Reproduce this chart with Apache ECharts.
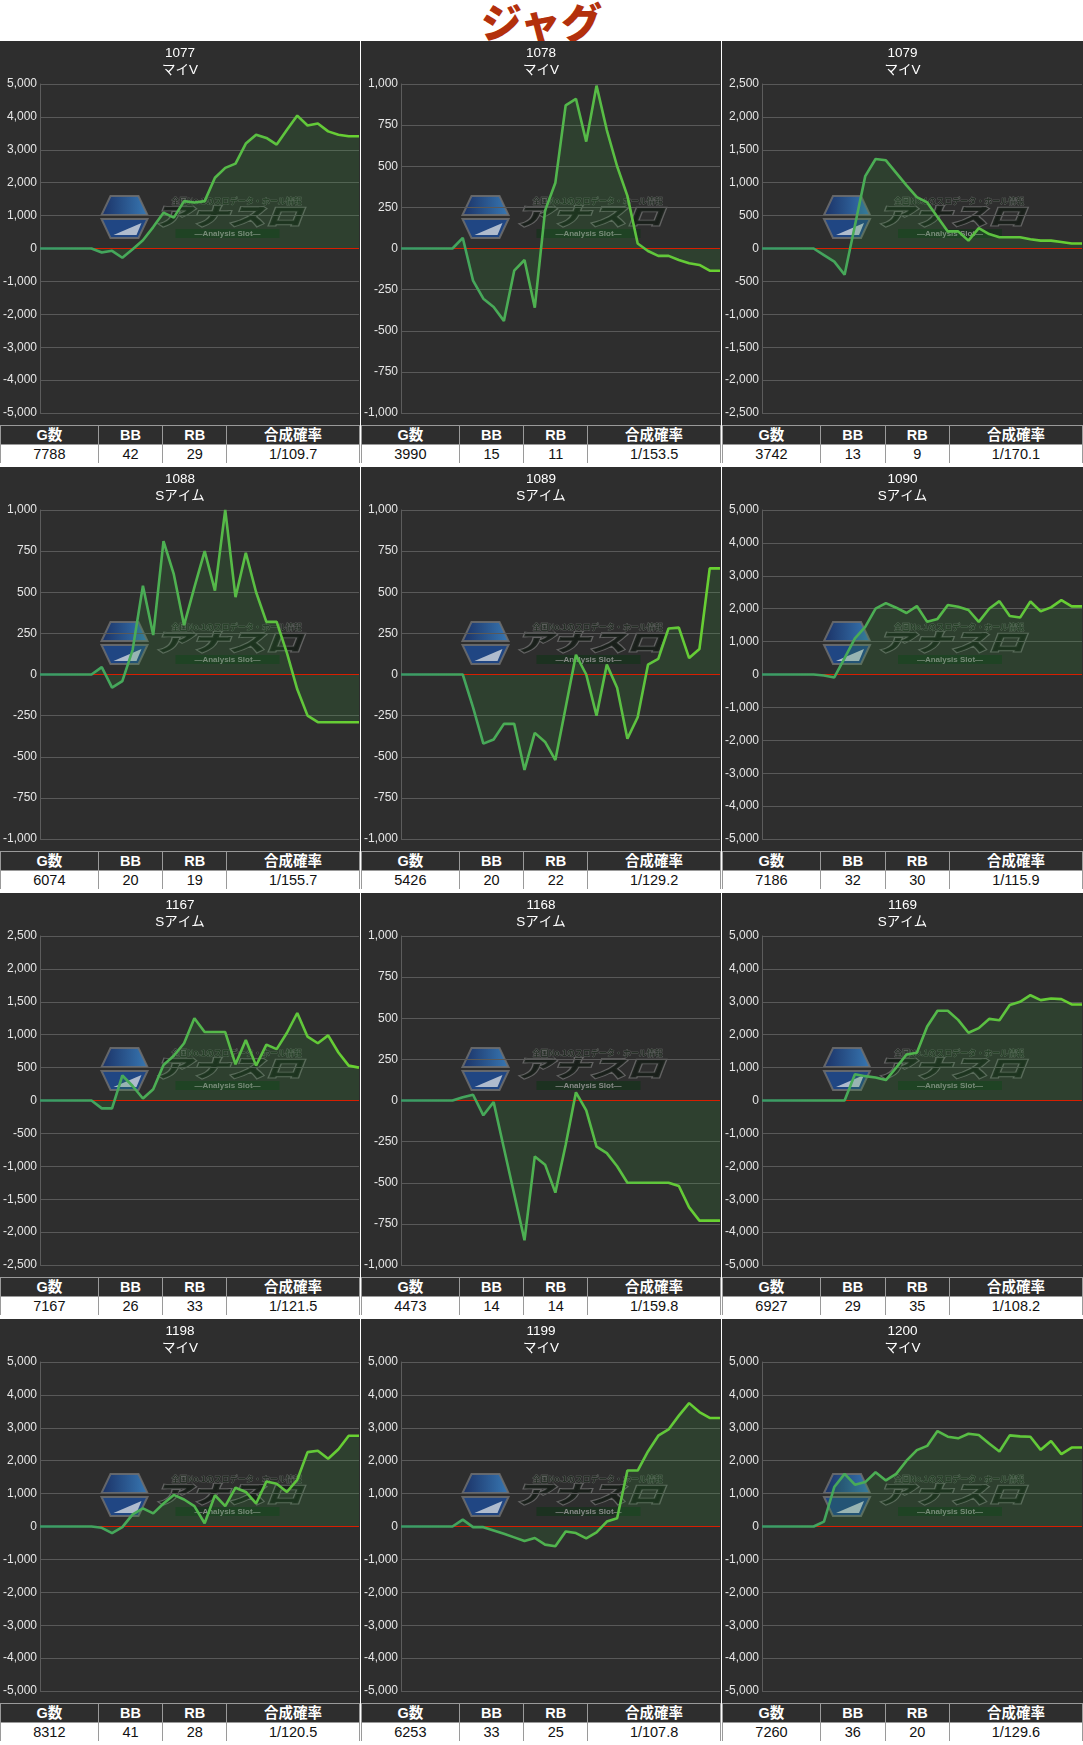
<!DOCTYPE html>
<html>
<head>
<meta charset="utf-8">
<script src="https://cdn.jsdelivr.net/npm/echarts@6/dist/echarts.min.js"></script>
<style>
  body { margin: 0; background: #fff; font-family: "Liberation Sans", Arial, "Noto Sans CJK JP", sans-serif; }
  .page { width: 1083px; }
  .page-title {
    height: 41px; line-height: 41px; text-align: center;
    font-family: "Noto Sans CJK JP", sans-serif; font-weight: 900; font-size: 41px; color: #b3300c;
  }
  .panels {
    display: grid;
    grid-template-columns: 360px 360px 361px;
    grid-auto-rows: 422px;
    column-gap: 1px;
    row-gap: 4px;
  }
  .panel { background: #2e2e2e; height: 422px; overflow: hidden; }
  .chart { width: 100%; height: 384px; }
  table.stats { width: 100%; height: 38px; border-collapse: collapse; table-layout: fixed; }
  table.stats tr { height: 19px; }
  table.stats th, table.stats td {
    border: 1px solid #9a9a9a; padding: 0; text-align: center;
    font-size: 14.5px; line-height: 16px;
  }
  table.stats th { background: #2e2e2e; color: #fff; font-weight: bold; }
  table.stats td { background: #fff; color: #111; }
</style>
</head>
<body>
<div class="page">
  <div class="page-title">ジャグ</div>
  <div class="panels" id="panels"></div>
</div>
<script>
const machineNos = ['1077', '1078', '1079', '1088', '1089', '1090', '1167', '1168', '1169', '1198', '1199', '1200'];
const machineNames = ['マイV', 'マイV', 'マイV', 'Sアイム', 'Sアイム', 'Sアイム', 'Sアイム', 'Sアイム', 'Sアイム', 'マイV', 'マイV', 'マイV'];
const gCounts = [7788, 3990, 3742, 6074, 5426, 7186, 7167, 4473, 6927, 8312, 6253, 7260];
const bbCounts = [42, 15, 13, 20, 20, 32, 26, 14, 29, 41, 33, 36];
const rbCounts = [29, 11, 9, 19, 22, 30, 33, 14, 35, 28, 25, 20];
const combinedRates = ['1/109.7', '1/153.5', '1/170.1', '1/155.7', '1/129.2', '1/115.9', '1/121.5', '1/159.8', '1/108.2', '1/120.5', '1/107.8', '1/129.6'];
const tableHeaders = ['G数', 'BB', 'RB', '合成確率'];

// y axis range (symmetric) and tick step per chart
const yMax = [5000, 1000, 2500, 1000, 1000, 5000, 2500, 1000, 5000, 5000, 5000, 5000];
const yStep = [1000, 250, 500, 250, 250, 1000, 500, 250, 1000, 1000, 1000, 1000];

// 差枚推移
const diff1077 = [0, 0, 0, 0, 0, 0, -120, -70, -280, -20, 250, 650, 1090, 940, 1440, 1400, 1440, 2150, 2450, 2580, 3190, 3460, 3360, 3160, 3610, 4040, 3740, 3800, 3560, 3460, 3410, 3410];
const diff1078 = [0, 0, 0, 0, 0, 0, 65, -195, -305, -355, -440, -135, -70, -360, 230, 400, 870, 910, 650, 990, 720, 500, 320, 30, -15, -45, -45, -70, -90, -100, -135, -135];
const diff1079 = [0, 0, 0, 0, 0, 0, -100, -200, -400, 350, 1100, 1360, 1340, 1150, 960, 780, 700, 480, 260, 260, 120, 310, 220, 170, 170, 170, 140, 120, 120, 100, 75, 75];
const diff1088 = [0, 0, 0, 0, 0, 0, 45, -80, -40, 150, 540, 240, 810, 610, 300, 530, 750, 510, 1000, 470, 740, 500, 320, 320, 130, -90, -250, -290, -290, -290, -290, -290];
const diff1089 = [0, 0, 0, 0, 0, 0, 0, -200, -420, -395, -300, -300, -580, -355, -410, -520, -200, 120, 0, -250, 60, -80, -390, -260, 60, 95, 280, 285, 100, 155, 645, 645];
const diff1090 = [0, 0, 0, 0, 0, 0, -30, -90, 500, 1100, 1450, 2000, 2170, 2030, 1870, 2080, 1600, 1690, 2110, 2060, 1960, 1600, 2000, 2230, 1780, 1730, 2220, 1920, 2040, 2260, 2070, 2070];
const diff1167 = [0, 0, 0, 0, 0, 0, -120, -120, 380, 220, 30, 170, 540, 680, 870, 1250, 1040, 1040, 1040, 550, 920, 530, 850, 780, 1030, 1330, 970, 870, 990, 730, 530, 500];
const diff1168 = [0, 0, 0, 0, 0, 0, 20, 35, -90, -10, -290, -570, -850, -340, -390, -560, -270, 50, -60, -280, -320, -400, -500, -500, -500, -500, -500, -520, -650, -730, -730, -730];
const diff1169 = [0, 0, 0, 0, 0, 0, 0, 0, 0, 800, 740, 700, 620, 1000, 1400, 1450, 2250, 2730, 2730, 2450, 2060, 2200, 2480, 2440, 2900, 3000, 3200, 3050, 3100, 3080, 2920, 2920];
const diff1198 = [0, 0, 0, 0, 0, 0, -40, -200, -20, 370, 550, 400, 700, 960, 820, 620, 100, 950, 620, 1180, 1050, 700, 1370, 1300, 1050, 1420, 2260, 2300, 2060, 2350, 2760, 2760];
const diff1199 = [0, 0, 0, 0, 0, 0, 210, -20, -20, -120, -220, -330, -440, -350, -550, -600, -150, -200, -360, -180, 150, 250, 1700, 1700, 2280, 2760, 2950, 3370, 3750, 3480, 3300, 3300];
const diff1200 = [0, 0, 0, 0, 0, 0, 150, 1200, 1600, 1270, 1350, 1650, 1400, 1600, 2000, 2320, 2450, 2900, 2730, 2680, 2820, 2780, 2520, 2280, 2770, 2740, 2730, 2330, 2600, 2200, 2400, 2400];
const diffSeries = [diff1077, diff1078, diff1079, diff1088, diff1089, diff1090, diff1167, diff1168, diff1169, diff1198, diff1199, diff1200];

const FONT = '"Liberation Sans", Arial, "Noto Sans CJK JP", sans-serif';

// watermark-ish logo, roughly like the original site stamp
const makeLogo = (w) => {
  const cx = 40 + (w - 41) / 2;
  const ox = cx - 99, oy = 154;
  const op = 0.85;
  return [{
    type: 'group', left: ox, top: oy, z: 100, silent: true,
    children: [
      { type: 'polygon', shape: { points: [[9, 1], [37, 1], [46, 20], [0, 20]] },
        style: { fill: new echarts.graphic.LinearGradient(0, 0, 1, 0, [{ offset: 0, color: '#17316e' }, { offset: 1, color: '#3a86cc' }]), stroke: '#6e6e6e', lineWidth: 2, opacity: op } },
      { type: 'polygon', shape: { points: [[0, 24], [46, 24], [37, 43], [9, 43]] },
        style: { fill: '#1d4a92', stroke: '#6e6e6e', lineWidth: 2, opacity: op } },
      { type: 'polygon', shape: { points: [[12, 40], [40, 28], [35, 40]] },
        style: { fill: '#c9d0da', opacity: op } },
      { type: 'text', x: 70, y: 2,
        style: { text: '全国No.1のスロデータ・ホール情報', font: 'bold 8px "Noto Sans CJK JP"', fill: '#1e2a20', stroke: '#7a7a7a', lineWidth: 0.6, opacity: op } },
      { type: 'text', x: 52, y: 9, scaleX: 1.55,
        style: { text: 'アナスロ', font: 'italic 900 24px "Noto Sans CJK JP"', fill: '#151c16', stroke: '#6c6c6c', lineWidth: 1.8, opacity: op } },
      { type: 'rect', shape: { x: 74, y: 34, width: 104, height: 9 },
        style: { fill: '#19311d', opacity: op } },
      { type: 'text', x: 126, y: 34.5,
        style: { text: '—Analysis Slot—', font: 'bold 8px "Liberation Sans"', fill: '#9a9a9a', align: 'center', opacity: op } }
    ]
  }];
};

const panelsEl = document.getElementById('panels');
const charts = [];

machineNos.forEach((no, i) => {
  const panel = document.createElement('div');
  panel.className = 'panel';
  const chartEl = document.createElement('div');
  chartEl.className = 'chart';
  panel.appendChild(chartEl);

  const table = document.createElement('table');
  table.className = 'stats';
  table.innerHTML =
    '<colgroup><col style="width:27.2%"><col style="width:18%"><col style="width:17.8%"><col style="width:37%"></colgroup>' +
    '<tr>' + tableHeaders.map(h => `<th>${h}</th>`).join('') + '</tr>' +
    `<tr><td>${gCounts[i]}</td><td>${bbCounts[i]}</td><td>${rbCounts[i]}</td><td>${combinedRates[i]}</td></tr>`;
  panel.appendChild(table);
  panelsEl.appendChild(panel);

  const chart = echarts.init(chartEl);
  const w = chartEl.clientWidth;
  const option = {
    animation: false,
    backgroundColor: '#2e2e2e',
    textStyle: { fontFamily: FONT },
    title: {
      text: `${no}\n${machineNames[i]}`,
      left: 'center',
      top: 4,
      padding: 0,
      textStyle: { color: '#ffffff', fontSize: 13.5, fontWeight: 'normal', lineHeight: 17, fontFamily: FONT }
    },
    grid: { left: 40, right: 1, top: 43, bottom: 12 },
    xAxis: {
      type: 'category',
      boundaryGap: false,
      axisLine: { show: false },
      axisTick: { show: false },
      axisLabel: { show: false },
      splitLine: { show: false }
    },
    yAxis: {
      type: 'value',
      min: -yMax[i],
      max: yMax[i],
      interval: yStep[i],
      axisLine: { show: true, lineStyle: { color: '#5c5c5c' } },
      axisTick: { show: false },
      axisLabel: {
        color: '#e6e6e6', fontSize: 12, margin: 3, fontFamily: FONT,
        formatter: v => v.toLocaleString('en-US')
      },
      splitLine: { lineStyle: { color: '#595959', width: 1 } }
    },
    graphic: makeLogo(w),
    series: [
      {
        // filled area under/over zero
        type: 'line',
        data: diffSeries[i],
        showSymbol: false,
        silent: true,
        z: 1,
        lineStyle: { width: 0, opacity: 0 },
        areaStyle: { color: 'rgba(50,150,55,0.26)' }
      },
      {
        type: 'line',
        data: diffSeries[i],
        showSymbol: false,
        z: 3,
        lineStyle: {
          width: 2.6,
          color: new echarts.graphic.LinearGradient(0, 0, 1, 0, [
            { offset: 0, color: '#3a9a68' },
            { offset: 1, color: '#6ad230' }
          ])
        },
        markLine: {
          silent: true,
          symbol: 'none',
          z: 2,
          label: { show: false },
          lineStyle: { color: '#d81e00', width: 1, type: 'solid', opacity: 1 },
          emphasis: { disabled: true },
          data: [{ yAxis: 0 }]
        }
      }
    ]
  };
  chart.setOption(option);
  charts.push(chart);
});
</script>
</body>
</html>
